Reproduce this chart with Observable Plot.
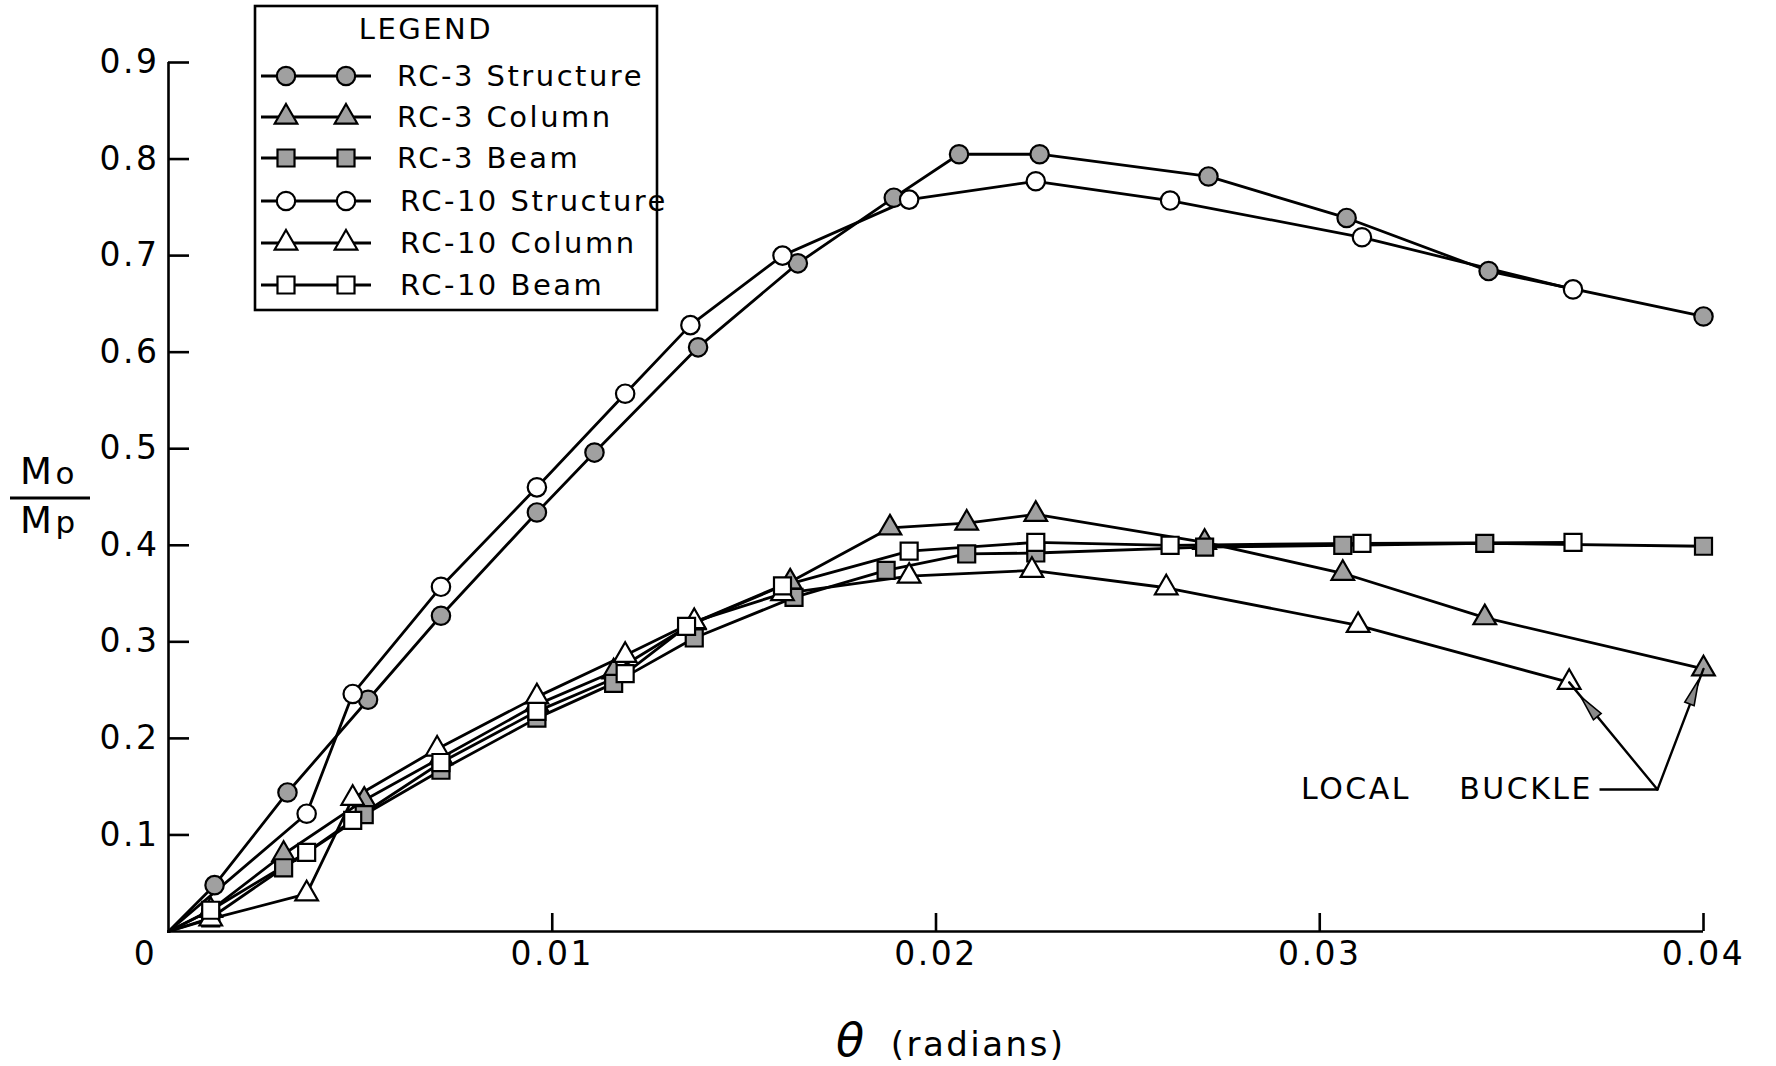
<!DOCTYPE html>
<html>
<head>
<meta charset="utf-8">
<script src="https://cdn.jsdelivr.net/npm/d3@7"></script>
<script src="https://cdn.jsdelivr.net/npm/@observablehq/plot@0.6"></script>
<style>
html, body { margin: 0; padding: 0; background: #fff; }
#chart svg text { letter-spacing: 2.5px; }
</style>
</head>
<body>
<div id="chart"></div>
<script>
// ---- data ----
const seriesNames = ["RC-3 Structure", "RC-3 Column", "RC-3 Beam", "RC-10 Structure", "RC-10 Column", "RC-10 Beam"];

const rc3StructureTheta = [0, 0.0012, 0.0031, 0.0052, 0.0071, 0.0096, 0.0111, 0.0138, 0.0164, 0.0189, 0.0206, 0.0227, 0.0271, 0.0307, 0.0344, 0.0400];
const rc3StructureM     = [0, 0.048, 0.144, 0.240, 0.327, 0.434, 0.496, 0.605, 0.692, 0.760, 0.805, 0.805, 0.782, 0.739, 0.684, 0.637];

const rc3ColumnTheta = [0, 0.0011, 0.0030, 0.0051, 0.0071, 0.0096, 0.0116, 0.0137, 0.0162, 0.0188, 0.0208, 0.0226, 0.0270, 0.0306, 0.0343, 0.0400];
const rc3ColumnM     = [0, 0.022, 0.080, 0.136, 0.180, 0.235, 0.269, 0.320, 0.362, 0.418, 0.423, 0.432, 0.403, 0.371, 0.325, 0.272];

const rc3BeamTheta = [0, 0.0011, 0.0030, 0.0051, 0.0071, 0.0096, 0.0116, 0.0137, 0.0163, 0.0187, 0.0208, 0.0226, 0.0270, 0.0306, 0.0343, 0.0400];
const rc3BeamM     = [0, 0.014, 0.066, 0.121, 0.167, 0.221, 0.257, 0.304, 0.346, 0.374, 0.391, 0.392, 0.398, 0.400, 0.402, 0.399];

const rc10StructureTheta = [0, 0.0036, 0.0048, 0.0071, 0.0096, 0.0119, 0.0136, 0.0160, 0.0193, 0.0226, 0.0261, 0.0311, 0.0366];
const rc10StructureM     = [0, 0.122, 0.246, 0.357, 0.460, 0.557, 0.628, 0.700, 0.758, 0.777, 0.757, 0.719, 0.665];

const rc10ColumnTheta = [0, 0.0011, 0.0036, 0.0048, 0.0070, 0.0096, 0.0119, 0.0137, 0.0160, 0.0193, 0.0225, 0.0260, 0.0310, 0.0365];
const rc10ColumnM     = [0, 0.013, 0.039, 0.138, 0.189, 0.243, 0.286, 0.321, 0.350, 0.368, 0.374, 0.356, 0.317, 0.258];

const rc10BeamTheta = [0, 0.0011, 0.0036, 0.0048, 0.0071, 0.0096, 0.0119, 0.0135, 0.0160, 0.0193, 0.0226, 0.0261, 0.0311, 0.0366];
const rc10BeamM     = [0, 0.022, 0.082, 0.115, 0.175, 0.228, 0.267, 0.316, 0.358, 0.394, 0.403, 0.400, 0.402, 0.403];

const xTicks = [0.01, 0.02, 0.03, 0.04];
const yTicks = [0.1, 0.2, 0.3, 0.4, 0.5, 0.6, 0.7, 0.8, 0.9];

// annotation anchor (label elbow) in data units
const buckleLabel = {textX: 0.03712, lineX: 0.03729, elbowX: 0.03880, y: 0.147, text: "LOCAL\u00a0\u00a0\u00a0\u00a0BUCKLE"};

// ---- build table ----
const thetaArrays = [rc3StructureTheta, rc3ColumnTheta, rc3BeamTheta, rc10StructureTheta, rc10ColumnTheta, rc10BeamTheta];
const mArrays = [rc3StructureM, rc3ColumnM, rc3BeamM, rc10StructureM, rc10ColumnM, rc10BeamM];
const symbolsOf = ["circle", "triangle", "square", "circle", "triangle", "square"];
const d3Symbols = {circle: d3.symbolCircle, triangle: d3.symbolTriangle, square: d3.symbolSquare};
const radiusOf = {circle: 9.2, triangle: 8.4, square: 9.6};
const fillOf = (i) => (i < 3 ? "#a0a0a0" : "white");

const rows = seriesNames.flatMap((name, i) =>
  thetaArrays[i].map((t, j) => ({series: name, theta: t, m: mArrays[i][j]}))
);

const lastOf = (name) => rows.filter(d => d.series === name).at(-1);
const buckleTargets = [
  {...lastOf("RC-10 Column"), inset: 19},
  {...lastOf("RC-3 Column"), inset: 12}
];

const FONT = "DejaVu Sans";

const dotMarks = seriesNames.map((name, i) =>
  Plot.dot(rows.filter(d => d.series === name && d.theta > 0), {
    x: "theta", y: "m",
    symbol: symbolsOf[i], r: radiusOf[symbolsOf[i]],
    fill: fillOf(i), stroke: "black", strokeWidth: 2.2
  })
);

const plot = Plot.plot({
  width: 1776,
  height: 1066,
  marginLeft: 168,
  marginRight: 73,
  marginTop: 62,
  marginBottom: 135,
  style: {fontFamily: FONT, background: "white", color: "black"},
  x: {domain: [0, 0.04]},
  y: {domain: [0, 0.9]},
  marks: [
    Plot.ruleX([0], {stroke: "black", strokeWidth: 2.6}),
    Plot.ruleY([0], {stroke: "black", strokeWidth: 2.6}),
    Plot.axisY({ticks: yTicks, tickSize: -21, tickPadding: 30, tickFormat: d => String(d), fontSize: 33, strokeWidth: 2.6, label: null}),
    Plot.axisX({ticks: xTicks, tickSize: -18, tickPadding: 28, tickFormat: d => String(d), fontSize: 33, strokeWidth: 2.6, label: null}),
    Plot.text([0], {x: d => d, y: d => d, text: d => String(d), dx: -23, dy: 10, lineAnchor: "top", fontSize: 33}),
    Plot.line(rows, {x: "theta", y: "m", z: "series", stroke: "black", strokeWidth: 2.8}),
    ...dotMarks,
    // LOCAL BUCKLE annotation
    Plot.text([buckleLabel], {x: "textX", y: "y", text: "text", textAnchor: "end", fontSize: 30}),
    Plot.link([buckleLabel], {x1: "lineX", x2: "elbowX", y1: "y", y2: "y", stroke: "black", strokeWidth: 2.4}),
    Plot.arrow(buckleTargets, {
      x1: () => buckleLabel.elbowX, y1: () => buckleLabel.y,
      x2: "theta", y2: "m", insetEnd: d => d.inset + 10,
      stroke: "black", strokeWidth: 2.4, headLength: 0
    })
  ]
});

document.getElementById("chart").appendChild(plot);

const svg = d3.select(plot);
const sx = plot.scale("x"), sy = plot.scale("y");

// filled spear-shaped arrow heads, placed with the plot's scales
const heads = svg.append("g");
buckleTargets.forEach(d => {
  const x0 = sx.apply(buckleLabel.elbowX), y0 = sy.apply(buckleLabel.y);
  const x1 = sx.apply(d.theta), y1 = sy.apply(d.m);
  const L = Math.hypot(x1 - x0, y1 - y0);
  const ux = (x1 - x0) / L, uy = (y1 - y0) / L;
  const tx = x1 - ux * d.inset, ty = y1 - uy * d.inset;
  const len = 26, hw = 5;
  const bx = tx - ux * len, by = ty - uy * len;
  const pts = [[tx, ty], [bx - uy * hw, by + ux * hw], [bx + uy * hw, by - ux * hw]];
  heads.append("path").attr("d", "M" + pts.map(p => p.join(",")).join("L") + "Z")
    .attr("fill", "#8a8a8a").attr("stroke", "black").attr("stroke-width", 1.6).attr("stroke-linejoin", "miter");
});

// ---- boxed legend, axis titles ----
const g = svg.append("g").attr("font-family", FONT).attr("fill", "black").attr("text-anchor", "start");
g.append("rect").attr("x", 255).attr("y", 6).attr("width", 402).attr("height", 304)
  .attr("fill", "white").attr("stroke", "black").attr("stroke-width", 2.6);
g.append("text").attr("x", 426).attr("y", 39).attr("text-anchor", "middle")
  .attr("font-size", 29).text("LEGEND");

const rowY = [76, 117, 158, 201, 243, 285];
seriesNames.forEach((name, i) => {
  const y = rowY[i];
  g.append("line").attr("x1", 261).attr("x2", 371).attr("y1", y).attr("y2", y)
    .attr("stroke", "black").attr("stroke-width", 2.8);
  const s = symbolsOf[i];
  const r = radiusOf[s];
  [286, 346].forEach(x => {
    g.append("path")
      .attr("d", d3.symbol().type(d3Symbols[s]).size(Math.PI * r * r)())
      .attr("transform", `translate(${x},${y})`)
      .attr("fill", fillOf(i)).attr("stroke", "black").attr("stroke-width", 2.2);
  });
  g.append("text").attr("x", i < 3 ? 397 : 400).attr("y", y + 10)
    .attr("text-anchor", "start").attr("font-size", 29).text(name);
});

// y-axis title: Mo / Mp
const yt = g.append("g").attr("text-anchor", "start");
const t1 = yt.append("text").attr("x", 20).attr("y", 484).attr("font-size", 37);
t1.append("tspan").text("M");
t1.append("tspan").attr("font-size", 31).attr("dx", 1).text("o");
yt.append("line").attr("x1", 10).attr("x2", 90).attr("y1", 498).attr("y2", 498)
  .attr("stroke", "black").attr("stroke-width", 3);
const t2 = yt.append("text").attr("x", 20).attr("y", 533).attr("font-size", 37);
t2.append("tspan").text("M");
t2.append("tspan").attr("font-size", 31).attr("dx", 1).text("p");

// x-axis title: θ (radians)
const xt = g.append("text").attr("x", 836).attr("y", 1056).attr("text-anchor", "start").attr("font-size", 34);
xt.append("tspan").attr("font-size", 46).attr("font-style", "italic").text("θ");
xt.append("tspan").attr("dx", 24).text("(radians)");
</script>
</body>
</html>
